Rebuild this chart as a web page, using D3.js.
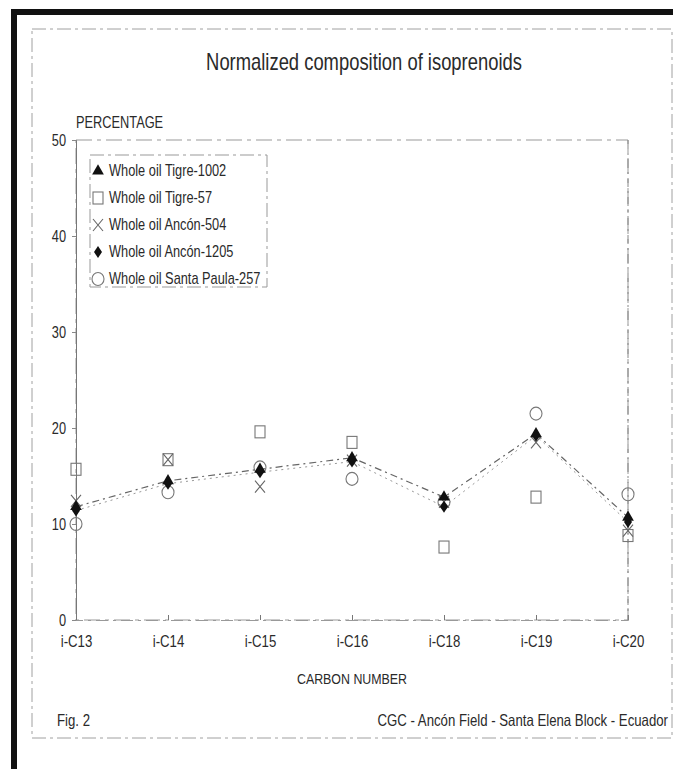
<!DOCTYPE html>
<html>
<head>
<meta charset="utf-8">
<script src="https://cdn.jsdelivr.net/npm/d3@7"></script>
<style>
  html, body { margin: 0; padding: 0; background: #fff; }
  svg { display: block; }
  text { font-family: "Liberation Sans", Arial, sans-serif; fill: #2a2a2a; }
</style>
</head>
<body>
<svg id="chart" width="673" height="769"></svg>
<script>
// Isoprenoid composition, normalized (%), by carbon number
const categories = ["i-C13", "i-C14", "i-C15", "i-C16", "i-C18", "i-C19", "i-C20"];
const tigre1002     = [11.8, 14.5, 15.7, 16.9, 12.8, 19.4, 10.7];
const tigre57       = [15.7, 16.7, 19.6, 18.5, 7.6, 12.8, 8.8];
const ancon504      = [12.4, 16.7, 13.9, 16.6, 12.3, 18.5, 9.3];
const ancon1205     = [11.4, 14.2, 15.4, 16.5, 11.8, 19.2, 10.2];
const santaPaula257 = [10.0, 13.3, 15.9, 14.7, 12.3, 21.5, 13.1];
const yTicks = [0, 10, 20, 30, 40, 50];

const seriesNames = [
  "Whole oil Tigre-1002",
  "Whole oil Tigre-57",
  "Whole oil Ancón-504",
  "Whole oil Ancón-1205",
  "Whole oil Santa Paula-257"
];

const svg = d3.select("#chart");
const W = 673, H = 769;
const NARROW = 0.8;   // horizontal squeeze for a condensed face

// condensed text placed at (x, y)
function label(x, y, str, size, anchor) {
  return svg.append("text")
    .attr("transform", `translate(${x},${y}) scale(${NARROW},1)`)
    .attr("text-anchor", anchor || "start")
    .attr("font-size", size)
    .text(str);
}

// page frame: heavy black edge on the top and left
svg.append("rect").attr("x", 11).attr("y", 9).attr("width", W - 11).attr("height", 6).attr("fill", "#111");
svg.append("rect").attr("x", 11).attr("y", 9).attr("width", 6).attr("height", H - 9).attr("fill", "#111");

// outer dashed border
svg.append("rect")
  .attr("x", 32).attr("y", 29).attr("width", 640).attr("height", 709)
  .attr("fill", "none").attr("stroke", "#a0a0a0").attr("stroke-width", 1)
  .attr("stroke-dasharray", "14,4,3,4");

const plot = { left: 76, right: 628, top: 140, bottom: 620 };

const x = d3.scalePoint().domain(categories).range([plot.left, plot.right]);
const y = d3.scaleLinear().domain([0, 50]).range([plot.bottom, plot.top]);

label(364, 70, "Normalized composition of isoprenoids", 23, "middle");
label(76, 128, "PERCENTAGE", 16);

// plot frame
svg.append("rect")
  .attr("x", plot.left).attr("y", plot.top)
  .attr("width", plot.right - plot.left).attr("height", plot.bottom - plot.top)
  .attr("fill", "none").attr("stroke", "#999").attr("stroke-width", 1)
  .attr("stroke-dasharray", "16,5,4,5");

function squeezeTicks(g) {
  g.selectAll(".tick text").each(function () {
    const t = d3.select(this);
    const tx = +t.attr("x") || 0;
    const ty = +t.attr("y") || 0;
    t.attr("x", tx / NARROW).attr("y", ty)
      .attr("transform", `scale(${NARROW},1)`)
      .attr("fill", "#2a2a2a");
  });
}

// y axis
const yAxis = d3.axisLeft(y).tickValues(yTicks).tickSize(4).tickPadding(6);
const gy = svg.append("g").attr("transform", `translate(${plot.left},0)`).call(yAxis);
gy.attr("font-family", null).attr("font-size", 16);
gy.select(".domain").attr("stroke", "#777");
gy.selectAll(".tick line").attr("stroke", "#888");
squeezeTicks(gy);

// x axis
const xAxis = d3.axisBottom(x).tickSize(-5).tickPadding(15);
const gx = svg.append("g").attr("transform", `translate(0,${plot.bottom})`).call(xAxis);
gx.attr("font-family", null).attr("font-size", 16.5);
gx.select(".domain").attr("stroke", "#999").attr("stroke-dasharray", "12,5,3,5");
gx.selectAll(".tick line").attr("stroke", "#777");
squeezeTicks(gx);

// right edge line through i-C20
svg.append("line")
  .attr("x1", x("i-C20")).attr("x2", x("i-C20"))
  .attr("y1", plot.top).attr("y2", plot.bottom)
  .attr("stroke", "#888").attr("stroke-dasharray", "9,4,2,4");

label((plot.left + plot.right) / 2, 684, "CARBON NUMBER", 15.5, "middle");
label(57, 726, "Fig. 2", 16.5);
label(668, 726, "CGC - Ancón Field - Santa Elena Block - Ecuador", 16.5, "end");

// connecting lines
const line = d3.line().x((d, i) => x(categories[i])).y(d => y(d));
svg.append("path").datum(tigre1002).attr("d", line)
  .attr("fill", "none").attr("stroke", "#666").attr("stroke-width", 1.2)
  .attr("stroke-dasharray", "7,4,2,4");
svg.append("path").datum(ancon1205).attr("d", line)
  .attr("fill", "none").attr("stroke", "#999").attr("stroke-width", 1)
  .attr("stroke-dasharray", "2,4");

// marker drawing
const markers = {
  triangle: (g) => g.append("path").attr("d", d3.symbol(d3.symbolTriangle, 60)()).attr("fill", "#111"),
  square: (g) => g.append("rect").attr("x", -5).attr("y", -6).attr("width", 10).attr("height", 12)
    .attr("fill", "none").attr("stroke", "#777").attr("stroke-width", 1.1),
  cross: (g) => g.append("path").attr("d", "M-5,-6L5,6M5,-6L-5,6")
    .attr("fill", "none").attr("stroke", "#666").attr("stroke-width", 1.1),
  diamond: (g) => g.append("path").attr("d", "M0,-6L4,0L0,6L-4,0Z").attr("fill", "#111"),
  circle: (g) => g.append("ellipse").attr("rx", 6).attr("ry", 6.5)
    .attr("fill", "none").attr("stroke", "#777").attr("stroke-width", 1.1)
};

const seriesData = [
  { values: santaPaula257, shape: "circle" },
  { values: tigre57, shape: "square" },
  { values: ancon504, shape: "cross" },
  { values: ancon1205, shape: "diamond" },
  { values: tigre1002, shape: "triangle" }
];

seriesData.forEach(s => {
  s.values.forEach((v, i) => {
    const g = svg.append("g").attr("transform", `translate(${x(categories[i])},${y(v)})`);
    markers[s.shape](g);
  });
});

// legend
const legend = { x: 90, y: 155, w: 177, h: 132 };
svg.append("rect")
  .attr("x", legend.x).attr("y", legend.y).attr("width", legend.w).attr("height", legend.h)
  .attr("fill", "#fff").attr("stroke", "#999").attr("stroke-dasharray", "14,4,3,4");

const legendShapes = ["triangle", "square", "cross", "diamond", "circle"];
seriesNames.forEach((name, i) => {
  const cy = 171 + i * 27;
  const g = svg.append("g").attr("transform", `translate(${legend.x + 8},${cy})`);
  markers[legendShapes[i]](g);
  label(legend.x + 19, cy + 5, name, 16);
});
</script>
</body>
</html>
